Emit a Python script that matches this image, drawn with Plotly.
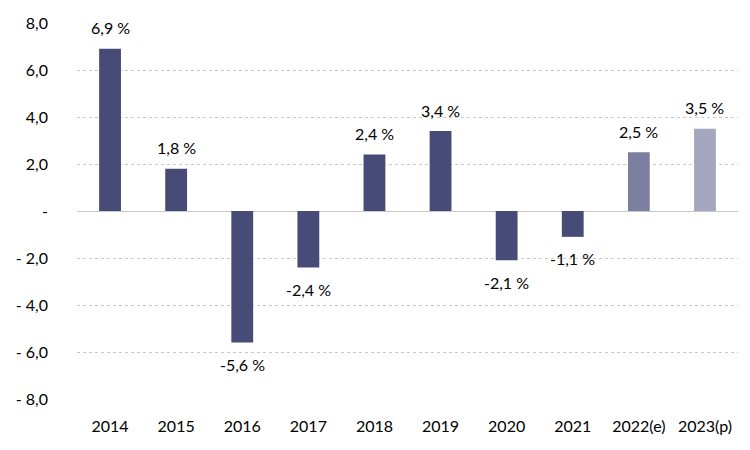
import plotly.graph_objects as go

categories = ["2014", "2015", "2016", "2017", "2018", "2019", "2020", "2021", "2022(e)", "2023(p)"]
values = [6.9, 1.8, -5.6, -2.4, 2.4, 3.4, -2.1, -1.1, 2.5, 3.5]
bar_colors = ["#474B78"] * 8 + ["#7C7FA0", "#A5A7C1"]
y_tick_vals = [8, 6, 4, 2, 0, -2, -4, -6, -8]
y_tick_text = ["8,0", "6,0", "4,0", "2,0", "-", "- 2,0", "- 4,0", "- 6,0", "- 8,0"]

labels = [f"{v:.1f}".replace(".", ",") + " %" for v in values]

fig = go.Figure(go.Bar(
    x=categories, y=values, marker_color=bar_colors, marker_line_width=0,
    width=0.33,
))

# category axis: annotations are placed by category index
for i, (v, t) in enumerate(zip(values, labels)):
    fig.add_annotation(
        x=i, y=v, text=t, showarrow=False, yanchor="middle",
        yshift=21 if v >= 0 else -22,
        font=dict(family="Lato", size=16, color="#000000"),
    )

fig.update_layout(
    width=750, height=450,
    margin=dict(l=69, r=20, t=15, b=59, autoexpand=False),
    plot_bgcolor="white", paper_bgcolor="white",
    showlegend=False,
    font=dict(family="Lato", size=16, color="#000000"),
)
fig.update_yaxes(
    range=[-8, 8], tickvals=y_tick_vals, ticktext=y_tick_text,
    showgrid=True, gridcolor="#C8C8C8", gridwidth=1, griddash="dot",
    zeroline=True, zerolinecolor="#C8C8C8", zerolinewidth=1,
    ticklabelstandoff=28, showline=False, automargin=False,
)
fig.update_xaxes(type="category", categoryorder="array", categoryarray=categories,
                 range=[-0.5, len(categories) - 0.5],
                 showgrid=False, showline=False, ticklabelstandoff=16,
                 automargin=False)

fig.write_html("out.html")
